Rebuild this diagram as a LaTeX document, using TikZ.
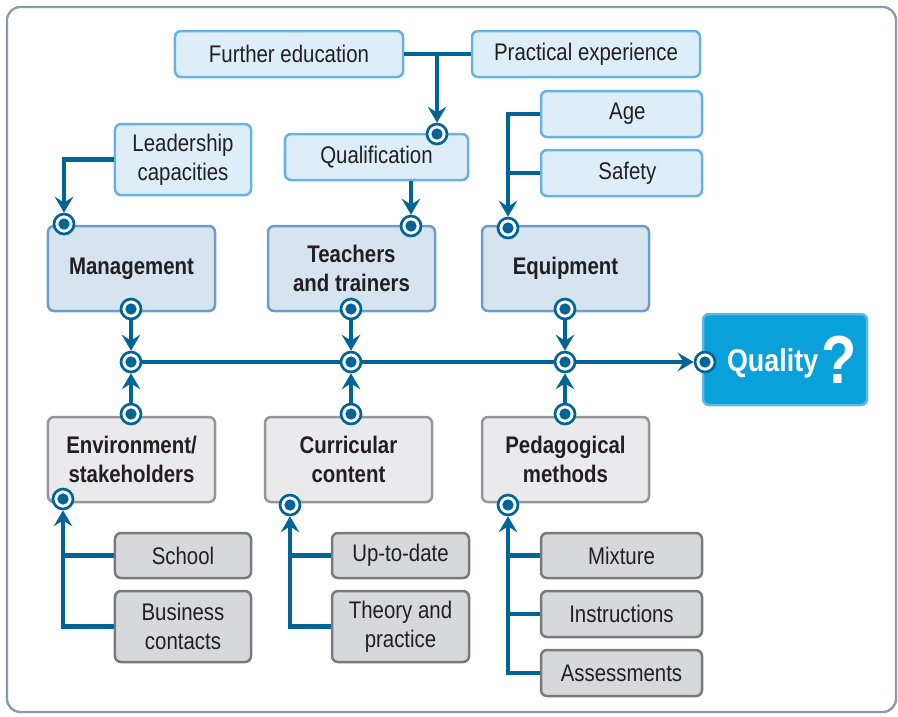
\documentclass[tikz,border=0pt]{standalone}
\usepackage{fontspec}
\setmainfont{Liberation Sans}[FakeStretch=0.85]
\usepackage{tikz}
\usetikzlibrary{arrows.meta,positioning}
\definecolor{linkblue}{RGB}{0,101,150}
\definecolor{paleblue}{RGB}{222,238,249}
\definecolor{paleedge}{RGB}{102,178,226}
\definecolor{midblue}{RGB}{214,228,240}
\definecolor{midedge}{RGB}{108,158,200}
\definecolor{palegray}{RGB}{234,234,237}
\definecolor{grayedge}{RGB}{150,150,154}
\definecolor{darkgray}{RGB}{215,216,219}
\definecolor{darkedge}{RGB}{122,122,126}
\definecolor{qualblue}{RGB}{10,160,218}
\definecolor{qualedge}{RGB}{95,185,230}
\definecolor{framegray}{RGB}{138,154,170}
\definecolor{textdark}{RGB}{35,31,32}
\tikzset{
  % common box
  box/.style={
    rounded corners=0.18cm,
    line width=0.075cm,
    align=center,
    inner sep=2pt,
    text=textdark,
    font=\fontsize{20.5}{25}\selectfont
  },
  % pale blue influences
  factor/.style={box, fill=paleblue, draw=paleedge},
  % main factors, upper row
  mainbox/.style={box, fill=midblue, draw=midedge, font=\fontsize{20.5}{25}\selectfont\bfseries},
  % main factors, lower row
  lowbox/.style={box, fill=palegray, draw=grayedge, font=\fontsize{20.5}{25}\selectfont\bfseries},
  % gray influences
  item/.style={box, fill=darkgray, draw=darkedge},
  % result box
  qualbox/.style={box, fill=qualblue, draw=qualedge, text=white,
    font=\fontsize{27}{30}\selectfont\bfseries},
}

\begin{document}
\begin{tikzpicture}[
    x=0.03cm, y=-0.03cm,
    port/.style={circle, draw=linkblue, line width=0.08cm, fill=white,
      minimum size=0.6cm, inner sep=0pt,
      path picture={\fill[linkblue] (path picture bounding box.center) circle (0.17cm);}},
    link/.style={draw=linkblue, line width=0.13cm},
    arr/.style={link, -{Stealth[length=0.48cm, width=0.56cm, inset=0.18cm]}}
  ]
    \useasboundingbox (0,0) rectangle (898,716);
    \draw[framegray, line width=0.07cm, rounded corners=0.4cm] (7,7) rectangle (896,712);

    % influences, top
    \node[factor, minimum width=6.84cm, minimum height=1.38cm] (fe) at (289,54) {Further education};
    \node[factor, minimum width=6.84cm, minimum height=1.38cm] (pe) at (586,54) {Practical experience};
    \node[factor, minimum width=4.08cm, minimum height=2.13cm] (lead) at (183,159.5) {Leadership\\capacities};
    \node[factor, minimum width=5.49cm, minimum height=1.38cm] (qual) at (376.5,157) {Qualification};
    \node[factor, minimum width=4.83cm, minimum height=1.38cm] (age) at (621.5,114) {\hspace*{10pt}Age};
    \node[factor, minimum width=4.83cm, minimum height=1.38cm] (safe) at (621.5,173) {\hspace*{10pt}Safety};

    % main factors
    \node[mainbox, minimum width=5.01cm, minimum height=2.55cm] (mgmt) at (131.5,268.5) {Management};
    \node[mainbox, minimum width=5.01cm, minimum height=2.55cm] (teach) at (351.5,268.5) {Teachers\\and trainers};
    \node[mainbox, minimum width=5.01cm, minimum height=2.55cm] (equip) at (565.5,268.5) {Equipment};
    \node[lowbox, minimum width=5.01cm, minimum height=2.55cm] (env) at (131.5,459.5) {Environment/\\stakeholders};
    \node[lowbox, minimum width=5.01cm, minimum height=2.55cm] (curr) at (348.5,459.5) {Curricular\\content};
    \node[lowbox, minimum width=5.01cm, minimum height=2.55cm] (ped) at (565.5,459.5) {Pedagogical\\methods};

    % result
    \node[qualbox, minimum width=4.92cm, minimum height=2.73cm] (quality) at (785,359.5)
      {\hspace*{12pt}Quality\hspace{3pt}\raisebox{-10pt}{\fontsize{58}{58}\selectfont ?}};

    % influences, bottom
    \node[item, minimum width=4.08cm, minimum height=1.35cm] (school) at (183,555.5) {School};
    \node[item, minimum width=4.08cm, minimum height=2.13cm] (biz) at (183,626.5) {Business\\contacts};
    \node[item, minimum width=4.11cm, minimum height=1.35cm] (upd) at (400.5,555.5) {Up-to-date};
    \node[item, minimum width=4.11cm, minimum height=2.13cm] (theory) at (400.5,626.5) {Theory and\\practice};
    \node[item, minimum width=4.83cm, minimum height=1.35cm] (mix) at (621.5,555.5) {Mixture};
    \node[item, minimum width=4.83cm, minimum height=1.38cm] (instr) at (621.5,614) {Instructions};
    \node[item, minimum width=4.83cm, minimum height=1.38cm] (assess) at (621.5,673) {Assessments};

    % ports
    \node[port] (qualin) at (437,134) {};
    \node[port] (mgmtin) at (64,224) {};
    \node[port] (teachin) at (411,226) {};
    \node[port] (equipin) at (508,228) {};
    \node[port] (mgmtout) at (131,309) {};
    \node[port] (teachout) at (351,309) {};
    \node[port] (equipout) at (565,309) {};
    \node[port] (j1) at (131,362) {};
    \node[port] (j2) at (351,362) {};
    \node[port] (j3) at (565,362) {};
    \node[port] (qualityin) at (705,362) {};
    \node[port] (envout) at (131,414) {};
    \node[port] (currout) at (351,414) {};
    \node[port] (pedout) at (565,414) {};
    \node[port] (envin) at (63,499) {};
    \node[port] (currin) at (290,505) {};
    \node[port] (pedin) at (508,505) {};

    % upper connectors
    \coordinate (fork) at (437,54);
    \draw[link] (fe) -- (pe);
    \draw[arr] (fork) -- (qualin);
    \draw[arr] (lead.west) -| (mgmtin);
    \draw[arr] (qual.south -| teachin) -- (teachin);
    \draw[arr] (age.west) -| (equipin);
    \draw[link] (safe.west) -- (safe.west -| equipin);

    % main line
    \draw[arr] (mgmtout) -- (j1);
    \draw[arr] (teachout) -- (j2);
    \draw[arr] (equipout) -- (j3);
    \draw[arr] (envout) -- (j1);
    \draw[arr] (currout) -- (j2);
    \draw[arr] (pedout) -- (j3);
    \draw[link] (j1) -- (j2) -- (j3);
    \draw[arr] (j3) -- (qualityin);

    % lower connectors
    \draw[arr] (biz.west) -| (envin);
    \draw[link] (school.west) -- (school.west -| envin);
    \draw[arr] (theory.west) -| (currin);
    \draw[link] (upd.west) -- (upd.west -| currin);
    \draw[arr] (assess.west) -| (pedin);
    \draw[link] (mix.west) -- (mix.west -| pedin);
    \draw[link] (instr.west) -- (instr.west -| pedin);
\end{tikzpicture}
\end{document}
